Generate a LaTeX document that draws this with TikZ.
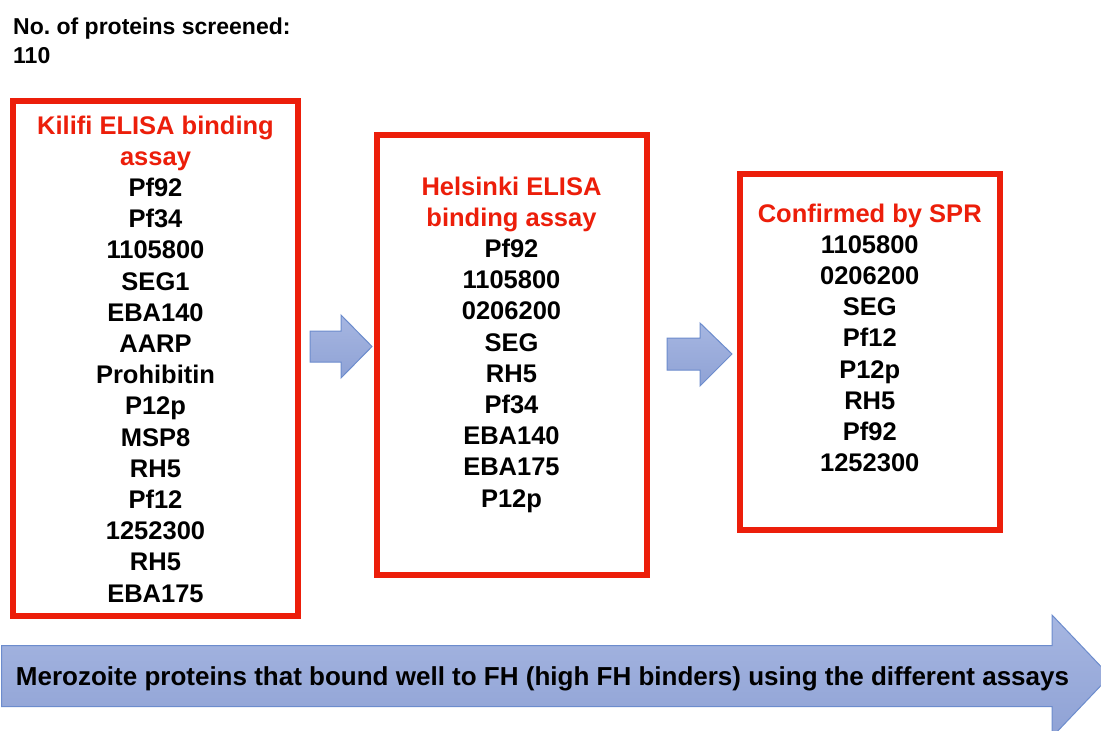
\documentclass[tikz,border=0pt]{standalone}
\usepackage{fontspec}
\setmainfont{Liberation Sans}
\definecolor{boxred}{RGB}{236,30,10}
\definecolor{arrowfilltop}{RGB}{166,182,225}
\definecolor{arrowfillbot}{RGB}{143,162,213}
\definecolor{arrowline}{RGB}{108,140,205}
\tikzset{
  redbox/.style={draw=boxred, line width=6pt, inner sep=0pt},
  listtext/.style={font=\bfseries\fontsize{25.5}{31.2}\selectfont, align=center, inner sep=0pt, anchor=north},
  blockarrow/.style={draw=arrowline, line width=1pt, line join=miter, top color=arrowfilltop, bottom color=arrowfillbot}
}
\begin{document}
\begin{tikzpicture}[x=1pt,y=-1pt]
\useasboundingbox (0,0) rectangle (1101,731);
\clip (0,0) rectangle (1101,731);
\fill[white] (0,0) rectangle (1101,731);

% header
\node[font=\bfseries\fontsize{23}{28.8}\selectfont, align=left, inner sep=0pt, anchor=north west] (header) at (13,17.5)
  {No.\ of proteins screened:\\110};

% boxes
\node[redbox, minimum width=285.5pt, minimum height=514.5pt] (kilifi) at (155.25,358.25) {};
\node[redbox, minimum width=270pt, minimum height=440pt] (helsinki) at (511.5,355) {};
\node[redbox, minimum width=259.5pt, minimum height=355.5pt] (spr) at (869.75,351.75) {};

% box texts
\node[listtext] (kilifitext) at (155.5,115.5)
  {\textcolor{boxred}{Kilifi ELISA binding}\\\textcolor{boxred}{assay}\\Pf92\\Pf34\\1105800\\SEG1\\EBA140\\AARP\\Prohibitin\\P12p\\MSP8\\RH5\\Pf12\\1252300\\RH5\\EBA175};
\node[listtext] (helsinkitext) at (511.5,176.5)
  {\textcolor{boxred}{Helsinki ELISA}\\\textcolor{boxred}{binding assay}\\Pf92\\1105800\\0206200\\SEG\\RH5\\Pf34\\EBA140\\EBA175\\P12p};
\node[listtext] (sprtext) at (869.75,203.5)
  {\textcolor{boxred}{Confirmed by SPR}\\1105800\\0206200\\SEG\\Pf12\\P12p\\RH5\\Pf92\\1252300};

% small block arrows
\draw[blockarrow] (310,331) -- (341,331) -- (341,315) -- (372,346.5) -- (341,378) -- (341,362) -- (310,362) -- cycle;
\draw[blockarrow] (667,338) -- (700,338) -- (700,323) -- (732,354) -- (700,386) -- (700,370) -- (667,370) -- cycle;

% big block arrow
\draw[blockarrow] (1.5,645.5) -- (1052,645.5) -- (1052,615) -- (1110,676) -- (1052,737) -- (1052,706.5) -- (1.5,706.5) -- cycle;
\node[font=\bfseries\fontsize{26}{30}\selectfont, inner sep=0pt, anchor=base] (bottomtext) at (542.5,685.5)
  {Merozoite proteins that bound well to FH (high FH binders) using the different assays};
\end{tikzpicture}
\end{document}
